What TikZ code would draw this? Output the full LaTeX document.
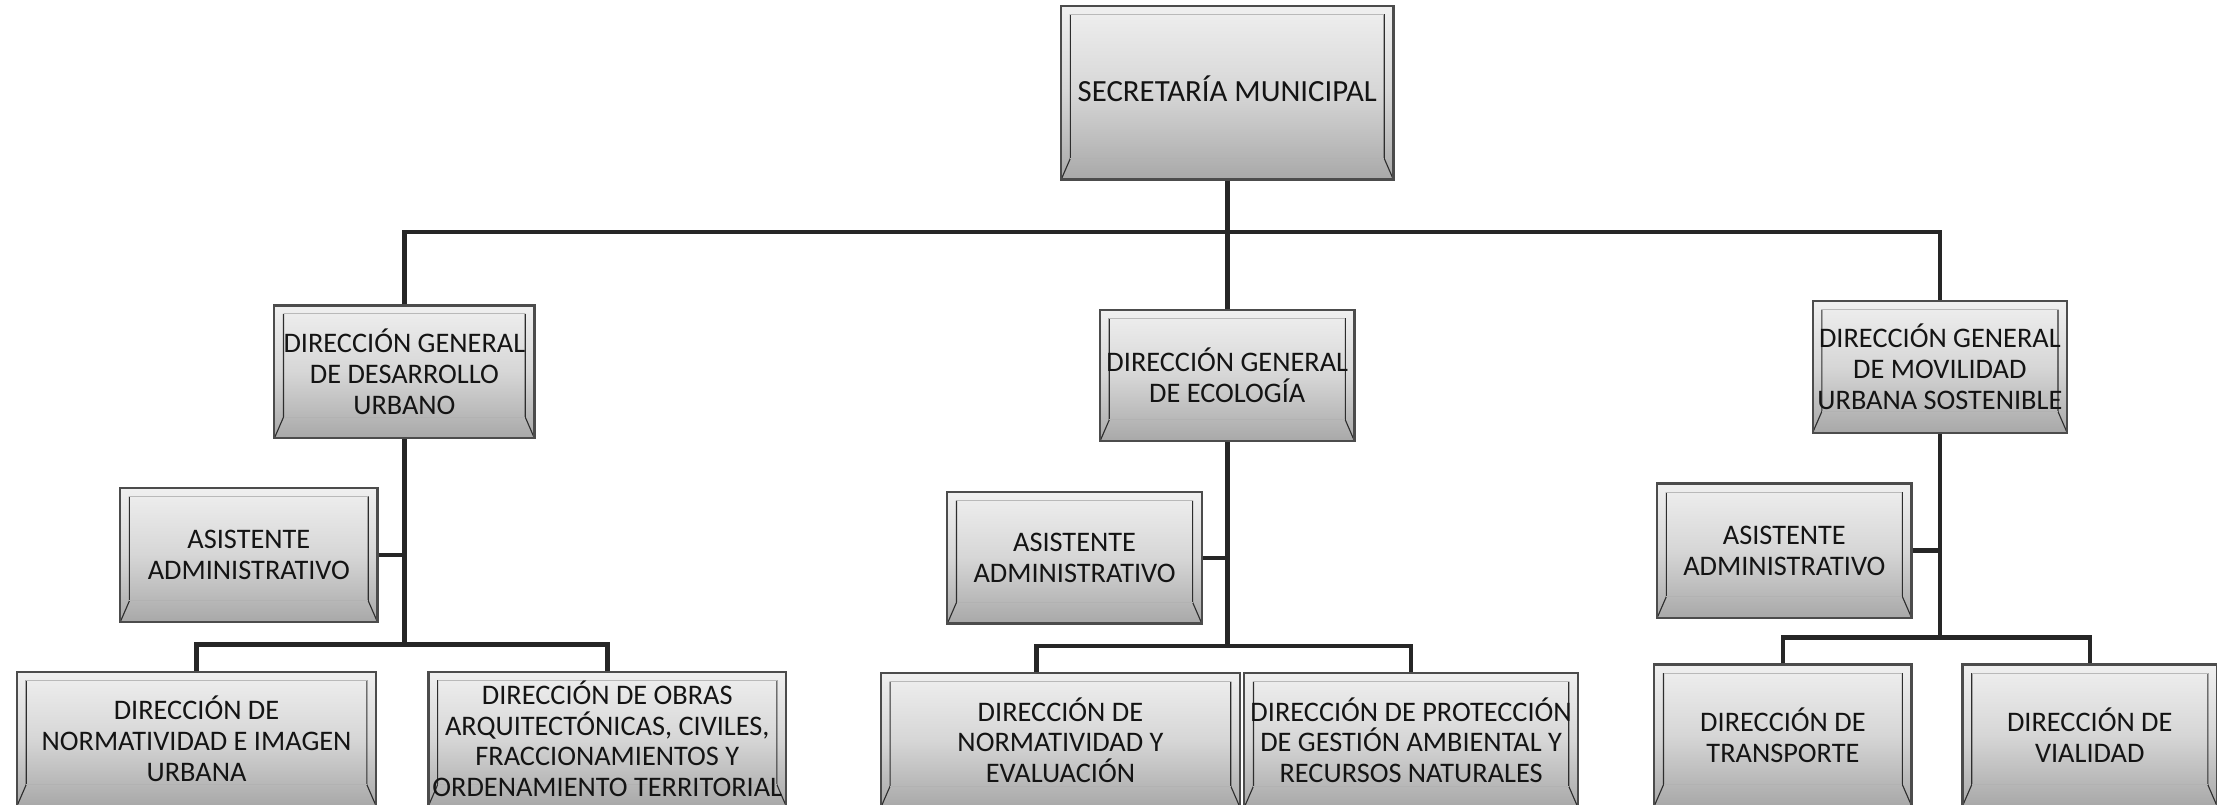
\documentclass[tikz,border=0pt]{standalone}
\usepackage{fontspec}
\setmainfont{Carlito}
\usetikzlibrary{calc}
\begin{document}
\begin{tikzpicture}[x=0.02cm, y=-0.02cm,
  box/.style={draw=black!70, line width=0.9pt, top color=gray!12, bottom color=gray!68,
    middle color=gray!32,
    align=center, inner sep=0pt, text=black!92,
    font=\fontsize{11.4}{12.4}\selectfont,
    path picture={
      \coordinate (bsw) at (path picture bounding box.south west);
      \coordinate (bne) at (path picture bounding box.north east);
      \coordinate (bnw) at (bsw|-bne);
      \coordinate (bse) at (bne|-bsw);
      \draw[gray!35!black, line width=0.45pt]
        (bsw) -- ($(bsw)+(0.13cm,0.3cm)$) -- ($(bnw)+(0.13cm,-0.12cm)$);
      \draw[gray!35!black, line width=0.45pt]
        (bse) -- ($(bse)+(-0.13cm,0.3cm)$) -- ($(bne)+(-0.13cm,-0.12cm)$);
      \draw[gray!60, line width=0.4pt]
        ($(bsw)+(0.13cm,0.3cm)$) -- ($(bse)+(-0.13cm,0.3cm)$);
      \draw[gray!55, line width=0.4pt]
        ($(bnw)+(0.13cm,-0.12cm)$) -- ($(bne)+(-0.13cm,-0.12cm)$);
    }},
  bigtext/.style={font=\fontsize{12.4}{13.4}\selectfont},
  link/.style={draw=black!85, line width=1.8pt}]

\useasboundingbox (0,0) rectangle (1568,569);
\clip (0,0) rectangle (1568,569);

% top
\node[box, bigtext, minimum width=4.70cm, minimum height=2.46cm, text depth=0.12cm] (sec) at (868,65.5) {SECRETARÍA MUNICIPAL};

% level 2
\node[box, minimum width=3.68cm, minimum height=1.88cm] (dg1) at (286,263) {DIRECCIÓN GENERAL\\DE DESARROLLO\\URBANO};
\node[box, minimum width=3.60cm, minimum height=1.86cm] (dg2) at (868,265.5) {DIRECCIÓN GENERAL\\DE ECOLOGÍA};
\node[box, minimum width=3.60cm, minimum height=1.86cm] (dg3) at (1372,259.5) {DIRECCIÓN GENERAL\\DE MOVILIDAD\\URBANA SOSTENIBLE};

% asistentes
\node[box, minimum width=3.64cm, minimum height=1.90cm] (a1) at (176,392.5) {ASISTENTE\\ADMINISTRATIVO};
\node[box, minimum width=3.60cm, minimum height=1.86cm] (a2) at (760,394.5) {ASISTENTE\\ADMINISTRATIVO};
\node[box, minimum width=3.60cm, minimum height=1.90cm] (a3) at (1262,389.5) {ASISTENTE\\ADMINISTRATIVO};

% bottom row
\node[box, minimum width=5.08cm, minimum height=1.90cm] (b1) at (139,522.5) {DIRECCIÓN DE\\NORMATIVIDAD E IMAGEN\\URBANA};
\node[box, minimum width=5.06cm, minimum height=1.90cm] (b2) at (429.5,522.5) {DIRECCIÓN DE OBRAS\\ARQUITECTÓNICAS, CIVILES,\\FRACCIONAMIENTOS Y\\ORDENAMIENTO TERRITORIAL};
\node[box, minimum width=5.08cm, minimum height=1.90cm] (b3) at (750,523.5) {DIRECCIÓN DE\\NORMATIVIDAD Y\\EVALUACIÓN};
\node[box, minimum width=4.72cm, minimum height=1.90cm] (b4) at (998,523.5) {DIRECCIÓN DE PROTECCIÓN\\DE GESTIÓN AMBIENTAL Y\\RECURSOS NATURALES};
\node[box, minimum width=3.64cm, minimum height=2.0cm] (b5) at (1261,520) {DIRECCIÓN DE\\TRANSPORTE};
\node[box, minimum width=3.60cm, minimum height=2.0cm] (b6) at (1478,520) {DIRECCIÓN DE\\VIALIDAD};

% top connectors
\draw[link] (sec.south) -- (dg2.north);
\draw[link] (dg1.north) -- ++(0,-51) coordinate (bus) -| (dg3.north);

% left subtree
\draw[link] (dg1.south) -- ++(0,145) coordinate (j1);
\draw[link] (b1.north) |- (j1) -| (b2.north);
\draw[link] (a1.east) -- (a1.east -| j1);

% middle subtree
\draw[link] (dg2.south) -- ++(0,144) coordinate (j2);
\draw[link] ([xshift=-0.34cm]b3.north) |- (j2) -| (b4.north);
\draw[link] (a2.east) -- (a2.east -| j2);

% right subtree
\draw[link] (dg3.south) -- ++(0,144) coordinate (j3);
\draw[link] (b5.north) |- (j3) -| (b6.north);
\draw[link] (a3.east) -- (a3.east -| j3);
\end{tikzpicture}
\end{document}
